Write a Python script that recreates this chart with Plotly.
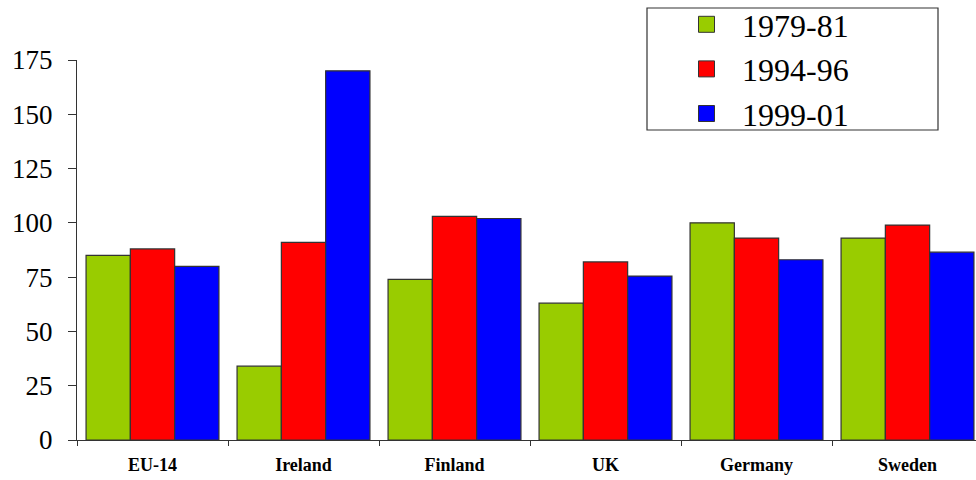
import plotly.graph_objects as go

categories = ["EU-14", "Ireland", "Finland", "UK", "Germany", "Sweden"]
series_names = ["1979-81", "1994-96", "1999-01"]
v_1979_81 = [85, 34, 74, 63, 100, 93]
v_1994_96 = [88, 91, 103, 82, 93, 99]
v_1999_01 = [80, 170, 102, 75.5, 83, 86.5]
colors = ["#99cc00", "#ff0000", "#0000ff"]
y_ticks = [0, 25, 50, 75, 100, 125, 150, 175]

SERIF = "Liberation Serif, Times New Roman, serif"

fig = go.Figure()
for name, vals, col in zip(series_names, [v_1979_81, v_1994_96, v_1999_01], colors):
    fig.add_trace(go.Bar(
        x=categories, y=vals, name=name, showlegend=False,
        marker=dict(color=col, line=dict(color="#333333", width=1.2)),
    ))
# legend-only entries with larger square swatches
for name, col in zip(series_names, colors):
    fig.add_trace(go.Scatter(
        x=[None], y=[None], name=name, mode="markers",
        marker=dict(symbol="square", size=30, color=col, line=dict(color="#333333", width=1)),
    ))

# legend frame
fig.add_shape(type="rect", xref="paper", yref="paper",
              x0=(647 - 77) / 899, x1=(938 - 77) / 899,
              y0=(440 - 130) / 380, y1=(440 - 8) / 380,
              line=dict(color="#333333", width=1.2), fillcolor="white", layer="below")

fig.update_layout(
    width=976, height=480,
    margin=dict(l=77, r=0, t=60, b=40, autoexpand=False),
    paper_bgcolor="white", plot_bgcolor="white",
    barmode="group", bargap=0.12, bargroupgap=0,
    font=dict(family=SERIF, color="black"),
    showlegend=True,
    legend=dict(
        x=671 / 976, xanchor="left", y=1 - 69 / 480, yanchor="middle",
        xref="container", yref="container",
        borderwidth=0, bgcolor="rgba(0,0,0,0)",
        font=dict(size=32, family=SERIF),
        itemwidth=61, tracegroupgap=0, itemsizing="trace",
    ),
    xaxis=dict(
        range=[-0.5, -0.5 + 899 / 151], showline=True, linecolor="#333333", linewidth=1.2,
        ticks="outside", tickson="boundaries", ticklen=5, tickcolor="#333333",
        tickfont=dict(size=18, family=SERIF, weight="bold"),
        showgrid=False, zeroline=False, ticklabelstandoff=8,
    ),
    yaxis=dict(
        range=[0, 175], tickvals=y_ticks, showline=True, linecolor="#333333", linewidth=1.2,
        ticks="outside", ticklen=8, tickcolor="#333333",
        tickfont=dict(size=27), showgrid=False, zeroline=False, ticklabelstandoff=10,
    ),
)

fig.write_html("out.html")
